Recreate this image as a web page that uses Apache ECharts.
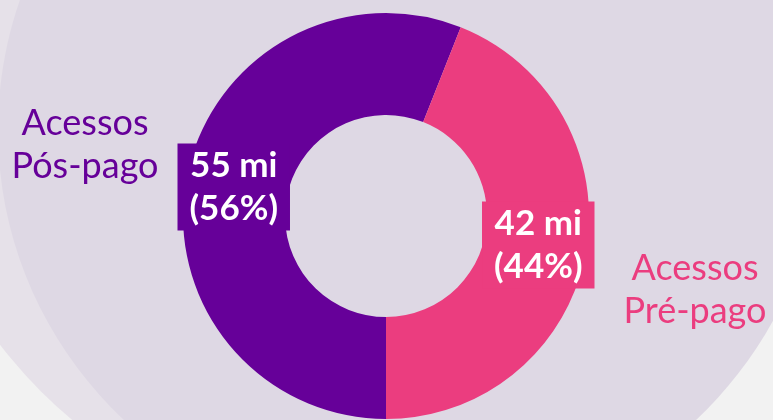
<!DOCTYPE html>
<html>
<head>
<meta charset="utf-8">
<script src="https://cdn.jsdelivr.net/npm/echarts@6/dist/echarts.min.js"></script>
<style>
html,body{margin:0;padding:0;background:#f2f2f2;}
#chart{width:773px;height:420px;}
</style>
</head>
<body>
<div id="chart"></div>
<script>
// Data
var categories = ['Acessos\nPós-pago', 'Acessos\nPré-pago'];
var amounts = [55, 42];          // milhões de acessos
var shares = [56, 44];           // percentual
var unit = 'mi';
var colors = ['#660099', '#eb3d7f'];

var chart = echarts.init(document.getElementById('chart'));

var data = categories.map(function (c, i) {
  return {
    name: c,
    value: shares[i],
    itemStyle: { color: colors[i] },
    label: { backgroundColor: colors[i] }
  };
});

var option = {
  backgroundColor: '#f2f2f2',
  animation: false,
  graphic: [
    { type: 'circle', z: 0, silent: true, shape: { cx: 366, cy: 66, r: 460 }, style: { fill: '#e6e1e9' } },
    { type: 'ellipse', z: 0, silent: true, shape: { cx: 410, cy: 130, rx: 412, ry: 403 }, style: { fill: '#ded8e4' } },
    { type: 'text', z: 5, x: 85, y: 102, style: { text: categories[0], fill: colors[0], font: '36px Lato', align: 'center', lineHeight: 43 } },
    { type: 'text', z: 5, x: 695, y: 247, style: { text: categories[1], fill: colors[1], font: '36px Lato', align: 'center', lineHeight: 43 } }
  ],
  series: [{
    type: 'pie',
    z: 2,
    center: [386, 216],
    radius: [101, 203],
    startAngle: -90,
    clockwise: true,
    avoidLabelOverlap: false,
    emphasis: { disabled: true },
    itemStyle: { borderWidth: 0 },
    label: {
      show: true,
      position: 'inside',
      color: '#ffffff',
      fontFamily: 'Lato',
      fontWeight: 'bold',
      fontSize: 35,
      lineHeight: 43,
      padding: [1, 12, 0, 12],
      formatter: function (p) {
        return amounts[p.dataIndex] + ' ' + unit + '\n(' + shares[p.dataIndex] + '%)';
      }
    },
    labelLine: { show: false },
    data: data
  }]
};
chart.setOption(option);
</script>
</body>
</html>
